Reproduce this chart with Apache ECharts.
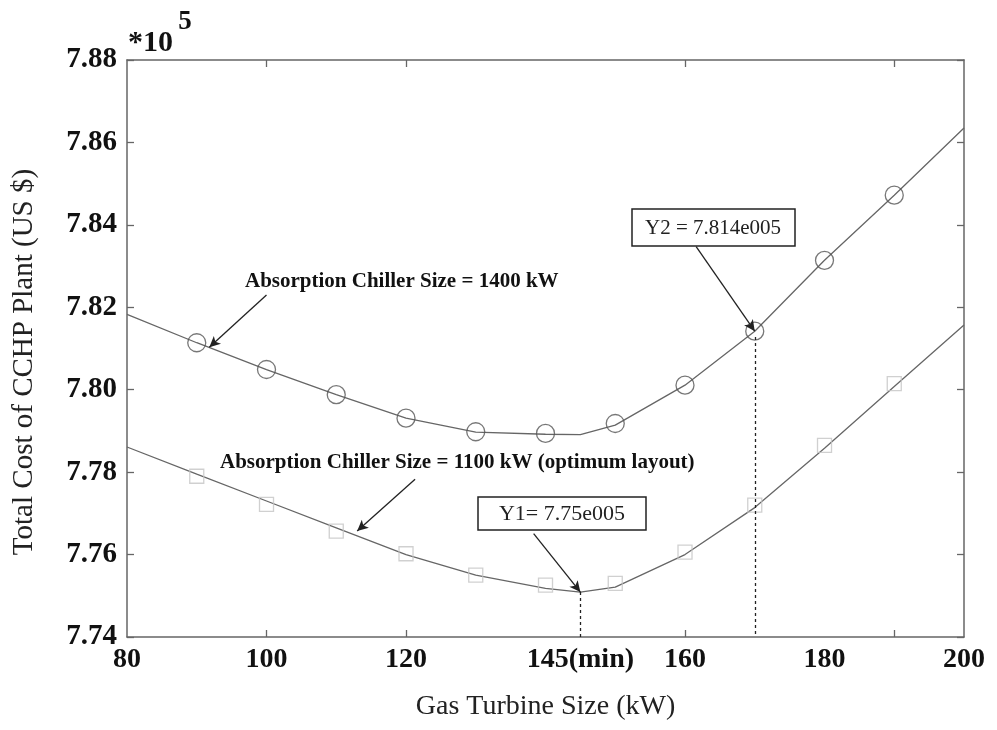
<!DOCTYPE html>
<html>
<head>
<meta charset="utf-8">
<title>Total Cost of CCHP Plant</title>
<script src="https://cdn.jsdelivr.net/npm/echarts@6/dist/echarts.min.js"></script>
<style>
  html, body { margin: 0; padding: 0; background: #fff; }
  #main { width: 997px; height: 730px; }
</style>
</head>
<body>
<div id="main"></div>
<script>
// gas turbine size (kW) where the markers sit
var markerX = [90, 100, 110, 120, 130, 140, 150, 160, 170, 180, 190];
// total cost, in units of 10^5 US $
var markers1400 = [7.8114, 7.8049, 7.7988, 7.7931, 7.7898, 7.7894, 7.7918, 7.8011, 7.8142, 7.8314, 7.8472];
var markers1100 = [7.7790, 7.7722, 7.7657, 7.7602, 7.7550, 7.7526, 7.7530, 7.7606, 7.7720, 7.7865, 7.8015];
// fitted curves
var curveX = [80, 90, 100, 110, 120, 130, 140, 145, 150, 160, 170, 180, 190, 200];
var curve1400 = [7.8183, 7.8114, 7.8049, 7.7988, 7.7931, 7.7897, 7.7892, 7.7891, 7.7914, 7.8011, 7.8142, 7.8314, 7.8472, 7.8635];
var curve1100 = [7.7861, 7.7795, 7.7730, 7.7665, 7.7600, 7.7550, 7.7518, 7.7509, 7.7521, 7.7600, 7.7714, 7.7858, 7.8008, 7.8157];
// axis ticks / labels
var xTickLabels = [80, 100, 120, 145, 160, 180, 200];
var xTicks = [100, 120, 160, 190];
// the two marked points
var minPoint = [145, 7.7509];
var y2Point = [170, 7.8142];

function pairs(xs, ys) {
  return xs.map(function (x, i) { return [x, ys[i]]; });
}

var serif = '"Liberation Serif", "DejaVu Serif", serif';
var axisColor = '#666';

function xAxisDef(pos, showLabel) {
  return {
    type: 'value', position: pos, min: 80, max: 200,
    axisLine: { show: true, onZero: false, lineStyle: { color: axisColor, width: 1.5 } },
    axisTick: { show: true, inside: true, length: 7, customValues: xTicks, lineStyle: { color: axisColor, width: 1.3 } },
    axisLabel: {
      show: showLabel, customValues: xTickLabels, margin: 9,
      fontFamily: serif, fontWeight: 'bold', fontSize: 28, color: '#111',
      formatter: function (v) { return v === 145 ? '145(min)' : String(v); }
    },
    splitLine: { show: false }
  };
}

function yAxisDef(pos, showLabel) {
  return {
    type: 'value', position: pos, min: 7.74, max: 7.88, interval: 0.02,
    axisLine: { show: true, onZero: false, lineStyle: { color: axisColor, width: 1.5 } },
    axisTick: { show: true, inside: true, length: 7, lineStyle: { color: axisColor, width: 1.3 } },
    axisLabel: {
      show: showLabel, margin: 10,
      fontFamily: serif, fontWeight: 'bold', fontSize: 29, color: '#111',
      formatter: function (v) { return v.toFixed(2); }
    },
    splitLine: { show: false }
  };
}

var arrowStyle = { color: '#222', width: 1.3, type: 'solid' };
var dashStyle = { color: '#222', width: 1.3, type: [3, 3] };

var chart = echarts.init(document.getElementById('main'));
chart.setOption({
  animation: false,
  backgroundColor: '#fff',
  grid: { left: 127, right: 33, top: 60, bottom: 93 },
  xAxis: [
    Object.assign(xAxisDef('bottom', true), {
      name: 'Gas Turbine Size (kW)', nameLocation: 'middle', nameGap: 56,
      nameTextStyle: { fontFamily: serif, fontSize: 28, color: '#222' }
    }),
    xAxisDef('top', false)
  ],
  yAxis: [yAxisDef('left', true), yAxisDef('right', false)],
  series: [
    {
      name: 'curve1400', type: 'line', data: pairs(curveX, curve1400),
      symbol: 'none', lineStyle: { color: '#666', width: 1.3 }, z: 2
    },
    {
      name: 'curve1100', type: 'line', data: pairs(curveX, curve1100),
      symbol: 'none', lineStyle: { color: '#666', width: 1.3 }, z: 2,
      markLine: {
        silent: true, symbol: ['none', 'arrow'], symbolSize: [8, 11],
        label: { show: false },
        data: [
          // label arrows
          [{ coord: [100.0, 7.8230], lineStyle: arrowStyle }, { coord: [91.8, 7.8103] }],
          [{ coord: [121.3, 7.7783], lineStyle: arrowStyle }, { coord: [113.0, 7.7657] }],
          [{ coord: [138.3, 7.7651], lineStyle: arrowStyle }, { coord: minPoint }],
          [{ coord: [161.6, 7.8347], lineStyle: arrowStyle }, { coord: y2Point }],
          // dotted drop lines
          [{ coord: [145, 7.7509], lineStyle: dashStyle, symbol: 'none' }, { coord: [145, 7.74], symbol: 'none' }],
          [{ coord: [170, 7.8128], lineStyle: dashStyle, symbol: 'none' }, { coord: [170, 7.74], symbol: 'none' }]
        ]
      }
    },
    {
      name: 'Absorption Chiller Size = 1400 kW', type: 'scatter', data: pairs(markerX, markers1400),
      symbol: 'circle', symbolSize: 18, z: 3,
      itemStyle: { color: 'rgba(0,0,0,0)', borderColor: '#555', borderWidth: 1.3 }
    },
    {
      name: 'Absorption Chiller Size = 1100 kW', type: 'scatter', data: pairs(markerX, markers1100),
      symbol: 'rect', symbolSize: 14, z: 3,
      itemStyle: { color: 'rgba(0,0,0,0)', borderColor: '#c4c4c4', borderWidth: 1.3 }
    }
  ],
  graphic: [
    {
      type: 'text', x: 24, y: 362, rotation: Math.PI / 2,
      style: { text: 'Total Cost of CCHP Plant (US $)', fontFamily: serif, fontSize: 29, fill: '#222', align: 'center', verticalAlign: 'middle' }
    },
    { type: 'text', x: 128, y: 43, style: { text: '*10', fontFamily: serif, fontWeight: 'bold', fontSize: 30, fill: '#111', verticalAlign: 'middle' } },
    { type: 'text', x: 185, y: 22, style: { text: '5', fontFamily: serif, fontWeight: 'bold', fontSize: 27, fill: '#111', align: 'center', verticalAlign: 'middle' } },
    { type: 'text', x: 245, y: 282, style: { text: 'Absorption Chiller Size = 1400 kW', fontFamily: serif, fontWeight: 'bold', fontSize: 21, fill: '#111', verticalAlign: 'middle' } },
    { type: 'text', x: 220, y: 463, style: { text: 'Absorption Chiller Size = 1100 kW (optimum layout)', fontFamily: serif, fontWeight: 'bold', fontSize: 21, fill: '#111', verticalAlign: 'middle' } },
    { type: 'rect', shape: { x: 478, y: 497, width: 168, height: 33 }, style: { fill: '#fff', stroke: '#222', lineWidth: 1.5 } },
    { type: 'text', x: 562, y: 514, style: { text: 'Y1= 7.75e005', fontFamily: serif, fontSize: 22, fill: '#222', align: 'center', verticalAlign: 'middle' } },
    { type: 'rect', shape: { x: 632, y: 209, width: 163, height: 37 }, style: { fill: '#fff', stroke: '#222', lineWidth: 1.5 } },
    { type: 'text', x: 713, y: 228, style: { text: 'Y2 = 7.814e005', fontFamily: serif, fontSize: 21, fill: '#222', align: 'center', verticalAlign: 'middle' } }
  ]
});
</script>
</body>
</html>
